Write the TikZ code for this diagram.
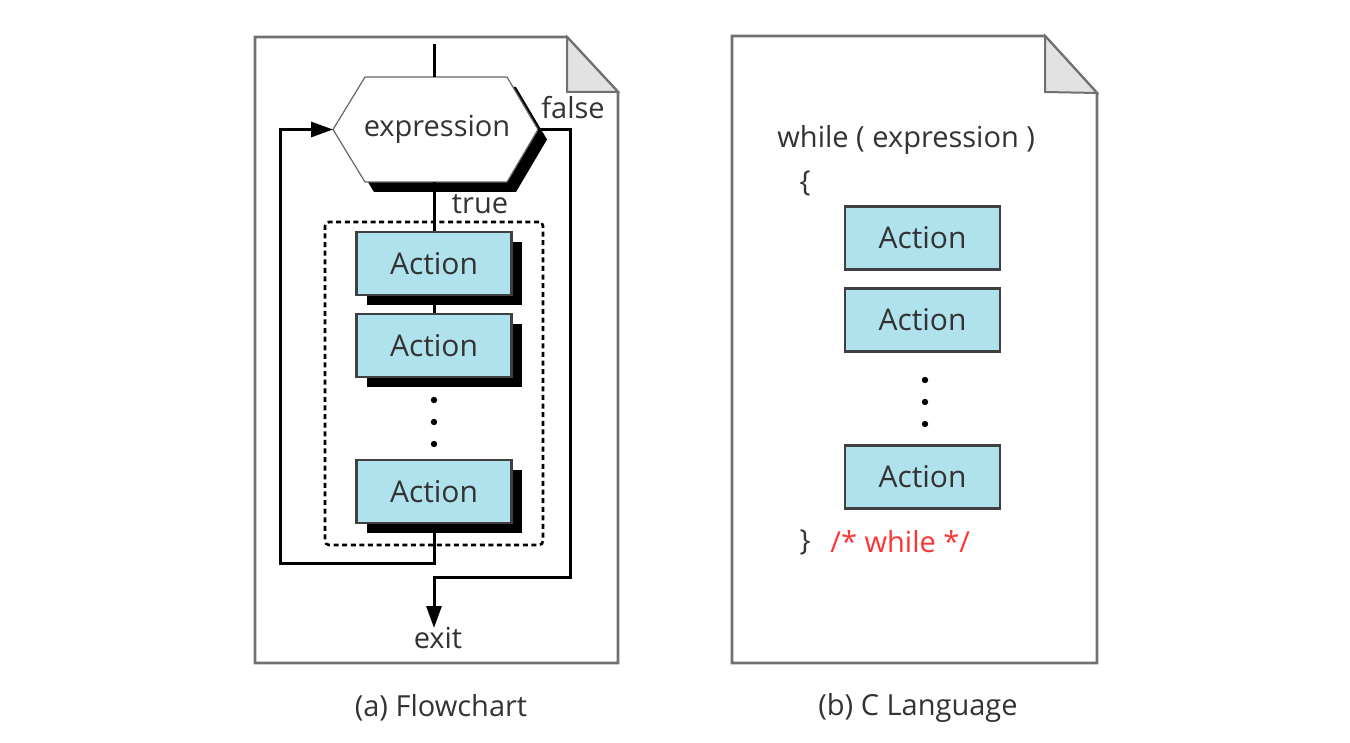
\documentclass[tikz,border=0pt]{standalone}
\usepackage{fontspec}
\setmainfont{Open Sans}
\usetikzlibrary{arrows.meta,shadows}
\definecolor{txt}{HTML}{333333}
\definecolor{actfill}{HTML}{B0E2EE}
\definecolor{pageline}{HTML}{707070}
\definecolor{foldfill}{HTML}{E2E2E2}
\definecolor{cred}{HTML}{FF3333}
\begin{document}
\begin{tikzpicture}[x=0.5pt,y=-0.5pt,
 lbl/.style={font=\fontsize{14.5}{16}\selectfont, text=txt, inner sep=0pt},
 act/.style={draw=black!75, line width=1.1pt, fill=actfill, minimum width=77.5pt, minimum height=31.5pt, inner sep=0pt, font=\fontsize{15}{16}\selectfont, text=txt},
 actsh/.style={act, drop shadow={shadow xshift=5pt, shadow yshift=-5pt, opacity=1, fill=black}},
 conn/.style={line width=1.5pt, black},
 tip/.style={-{Triangle[length=11pt,width=7.5pt]}},
 page/.style={draw=pageline, line width=1.3pt, fill=white},
 fold/.style={draw=pageline, line width=1pt, fill=foldfill},
 dotc/.style={circle, fill=black, inner sep=0pt, minimum size=3.2pt}]
\useasboundingbox (0,0) rectangle (1350,743);
% pages
\draw[page] (255,37) -- (567,37) -- (618,92) -- (618,663) -- (255,663) -- cycle;
\draw[fold] (567,37) -- (567,92) -- (618,92) -- cycle;
\draw[page] (732,36) -- (1045,36) -- (1097,93) -- (1097,663) -- (732,663) -- cycle;
\draw[fold] (1045,36) -- (1045,92) -- (1097,93) -- cycle;
% hexagon
\fill[black] (342,139.5) -- (374,87) -- (516,87) -- (547,139.5) -- (516,192) -- (374,192) -- cycle;
\draw[fill=white, draw=black!60, line width=0.6pt] (333,129.5) -- (365,77) -- (507,77) -- (538,129.5) -- (507,182) -- (365,182) -- cycle;
\node[lbl, minimum width=102.5pt, minimum height=52.5pt] (expr) at (437,129.5) {expression};
% dashed body
\node[draw, line width=1.3pt, dash pattern=on 2.5pt off 1.8pt, rounded corners=2pt, minimum width=109pt, minimum height=161.5pt] (body) at (434,383.5) {};
% actions
\node[actsh] (a1) at (434,263.5) {Action};
\node[actsh] (a2) at (434,345.5) {Action};
\node[actsh] (a3) at (434,491.5) {Action};
\node[dotc] (d1) at (434,400) {};
\node[dotc] (d2) at (434,422) {};
\node[dotc] (d3) at (434,444) {};
% connectors
\coordinate (top) at (434,44);
\draw[conn] (top) -- (top |- expr.north);
\draw[conn] (a1.north |- expr.south) -- (a1.north);
\draw[conn] (a1.south) -- (a2.north);
\coordinate (lb) at (280,563);
\coordinate (hl) at (333,129.5);
\draw[conn,tip] (a3.south) |- (lb) |- (hl);
\coordinate (rf) at (570,577);
\coordinate (ex) at (434,628);
\coordinate (hr) at (538,129.5);
\draw[conn,tip] (hr) -| (rf) -| (ex);
\node[lbl] (false) at (573,108) {false};
\node[lbl] (true) at (480,204) {true};
\node[lbl] (exit) at (438,638) {exit};
% right
\node[lbl, anchor=west] (wh) at (777,140) {while ( expression )};
\node[lbl] (ob) at (805,183) {\{};
\node[act] (r1) at (922.5,238) {Action};
\node[act] (r2) at (922.5,320) {Action};
\node[act] (r3) at (922.5,477) {Action};
\node[dotc] (e1) at (925,380) {};
\node[dotc] (e2) at (925,402) {};
\node[dotc] (e3) at (925,424) {};
\node[lbl] (cb) at (805,542) {\}};
\node[lbl, anchor=west, text=cred] (cm) at (830,542) {/* while */};
% captions
\node[lbl] (capa) at (441,708) {(a) Flowchart};
\node[lbl] (capb) at (918,708) {(b) C Language};
\end{tikzpicture}
\end{document}
